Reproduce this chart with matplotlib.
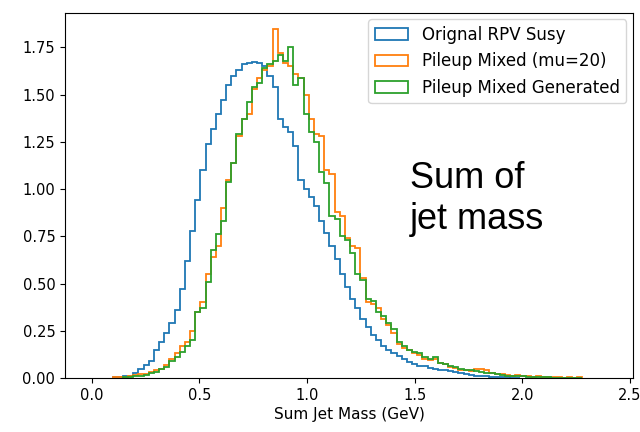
import numpy as np
import matplotlib
matplotlib.use("Agg")
import matplotlib.pyplot as plt

# Histogram binning (density values)
bin_lo, bin_hi, n_bins = 0.0, 2.4, 100

labels = ["Orignal RPV Susy", "Pileup Mixed (mu=20)", "Pileup Mixed Generated"]

original = [0, 0, 0, 0, 0.004, 0.005, 0.008, 0.012, 0.025, 0.05,
            0.07, 0.09, 0.15, 0.19, 0.24, 0.29, 0.36, 0.47, 0.62, 0.78,
            0.94, 1.10, 1.24, 1.32, 1.40, 1.47, 1.55, 1.60, 1.63, 1.66,
            1.67, 1.675, 1.67, 1.65, 1.60, 1.54, 1.37, 1.33, 1.30, 1.23,
            1.05, 1.00, 0.96, 0.91, 0.83, 0.77, 0.70, 0.63, 0.55, 0.48,
            0.42, 0.37, 0.31, 0.27, 0.23, 0.20, 0.17, 0.15, 0.135, 0.115,
            0.10, 0.085, 0.075, 0.065, 0.065, 0.055, 0.05, 0.045, 0.04, 0.035,
            0.03, 0.025, 0.02, 0.016, 0.012, 0.01, 0.008, 0.006, 0.005, 0.004,
            0.003, 0.002, 0.001, 0, 0, 0, 0, 0, 0, 0,
            0, 0, 0, 0, 0, 0, 0, 0, 0, 0]

pileup = [0, 0, 0, 0, 0.005, 0.005, 0.005, 0.01, 0.015, 0.02,
          0.02, 0.03, 0.04, 0.05, 0.07, 0.10, 0.13, 0.17, 0.19, 0.25,
          0.35, 0.40, 0.55, 0.64, 0.70, 0.90, 1.05, 1.14, 1.28, 1.37,
          1.40, 1.53, 1.59, 1.63, 1.65, 1.85, 1.72, 1.67, 1.65, 1.61,
          1.59, 1.50, 1.37, 1.29, 1.28, 1.10, 1.08, 0.88, 0.86, 0.74,
          0.70, 0.69, 0.53, 0.40, 0.39, 0.37, 0.31, 0.28, 0.24, 0.18,
          0.16, 0.15, 0.13, 0.12, 0.10, 0.095, 0.10, 0.08, 0.075, 0.06,
          0.055, 0.045, 0.04, 0.035, 0.05, 0.05, 0.045, 0.025, 0.02, 0.02,
          0.015, 0.01, 0.015, 0.008, 0.01, 0.005, 0.008, 0.004, 0.005, 0.003,
          0.004, 0.002, 0.003, 0.002, 0.003, 0, 0, 0, 0, 0]

generated = [0, 0, 0, 0, 0, 0, 0.003, 0.005, 0.01, 0.01,
             0.015, 0.025, 0.03, 0.05, 0.06, 0.09, 0.11, 0.14, 0.17, 0.20,
             0.35, 0.37, 0.51, 0.68, 0.76, 0.83, 1.04, 1.14, 1.29, 1.37,
             1.46, 1.54, 1.56, 1.64, 1.66, 1.68, 1.71, 1.68, 1.75, 1.55,
             1.59, 1.40, 1.30, 1.25, 1.09, 1.03, 0.86, 0.84, 0.75, 0.73,
             0.66, 0.55, 0.52, 0.42, 0.41, 0.35, 0.33, 0.29, 0.26, 0.19,
             0.17, 0.15, 0.14, 0.13, 0.11, 0.10, 0.11, 0.08, 0.075, 0.065,
             0.06, 0.05, 0.045, 0.04, 0.035, 0.03, 0.025, 0.025, 0.02, 0.015,
             0.012, 0.01, 0.008, 0.008, 0.006, 0.005, 0.004, 0.003, 0.003, 0.002,
             0.002, 0.002, 0.001, 0.001, 0.002, 0, 0, 0, 0, 0]

xlabel = "Sum Jet Mass (GeV)"
annotation = "Sum of\njet mass"

edges = np.linspace(bin_lo, bin_hi, n_bins + 1)
centers = 0.5 * (edges[:-1] + edges[1:])

fig = plt.figure(figsize=(6.4, 4.32), dpi=100)
ax = fig.add_axes([0.1016, 0.125, 0.8874, 0.846])

colors = ["#1f77b4", "#ff7f0e", "#2ca02c"]
for vals, lab, col in zip([original, pileup, generated], labels, colors):
    v = np.asarray(vals, dtype=float)
    nz = np.nonzero(v)[0]
    a, b = nz[0], nz[-1] + 1
    ax.hist(centers[a:b], bins=edges[a:b + 1], weights=v[a:b], histtype="step",
            color=col, linewidth=1.3, label=lab)

ax.set_xlim(-0.125, 2.515)
ax.set_ylim(0, 1.935)
ax.set_xticks([0.0, 0.5, 1.0, 1.5, 2.0, 2.5])
ax.set_yticks([0.0, 0.25, 0.5, 0.75, 1.0, 1.25, 1.5, 1.75])
ax.tick_params(labelsize=10.5)
ax.set_xlabel(xlabel, fontsize=11, labelpad=3)
ax.legend(loc="upper right", fontsize=12, borderaxespad=0.4)

fig.text(0.64, 0.627, annotation, fontsize=26, family=["Liberation Sans", "DejaVu Sans"],
         va="top", ha="left", color="black", linespacing=1.2)

fig.savefig("out.png", dpi=100)
